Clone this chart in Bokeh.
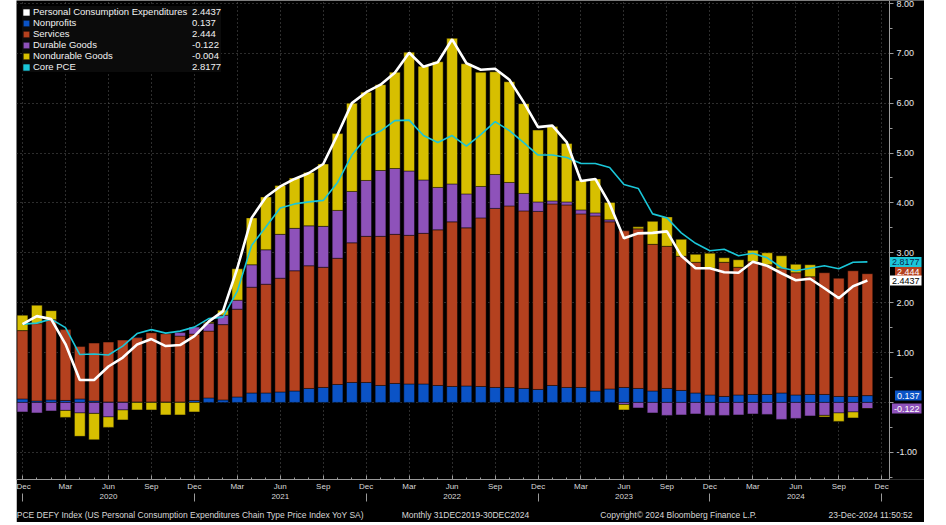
import numpy as np
from bokeh.plotting import figure
from bokeh.models import (ColumnDataSource, FixedTicker, LinearAxis, Legend, LegendItem,
                          Label, NumeralTickFormatter, Range1d, BoxAnnotation)
from bokeh.embed import file_html
from bokeh.resources import INLINE

# ---------------- data (month 0 = Dec 2019 ... 59 = Nov 2024) ----------------
month_index = list(range(60))

nonprofits = [0.07, 0.03, 0.05, 0.04, 0.07, 0.03, 0.01, 0.01, 0.01, 0.01, 0.01, 0.01, 0.04, 0.09, 0.05,
              0.11, 0.19, 0.19, 0.21, 0.23, 0.28, 0.30, 0.36, 0.40, 0.40, 0.34, 0.38, 0.37, 0.37, 0.34,
              0.32, 0.33, 0.32, 0.30, 0.30, 0.28, 0.26, 0.34, 0.30, 0.30, 0.23, 0.27, 0.30, 0.28, 0.23,
              0.28, 0.24, 0.19, 0.15, 0.12, 0.15, 0.16, 0.16, 0.19, 0.15, 0.16, 0.16, 0.12, 0.12, 0.137]

services = [1.37, 1.55, 1.61, 1.42, 1.05, 1.16, 1.20, 1.24, 1.29, 1.39, 1.37, 1.32, 1.33, 1.34, 1.51,
            1.76, 2.12, 2.18, 2.28, 2.41, 2.46, 2.41, 2.53, 2.80, 2.93, 2.99, 2.99, 2.98, 3.02, 3.12,
            3.30, 3.17, 3.38, 3.59, 3.64, 3.56, 3.57, 3.64, 3.66, 3.48, 3.51, 3.35, 3.14, 3.20, 2.94,
            2.85, 2.69, 2.62, 2.54, 2.69, 2.56, 2.66, 2.60, 2.49, 2.45, 2.36, 2.44, 2.37, 2.52, 2.444]

durable = [-0.19, -0.21, -0.17, -0.16, -0.21, -0.22, -0.29, -0.15, 0.01, 0.0, 0.0, 0.07, 0.14, 0.16, 0.19,
           0.18, 0.45, 0.69, 0.88, 0.85, 0.80, 0.82, 0.96, 1.03, 1.12, 1.32, 1.32, 1.29, 1.07, 0.85,
           0.76, 0.68, 0.63, 0.68, 0.47, 0.35, 0.19, 0.06, 0.06, 0.08, 0.06, 0.04, -0.04, -0.11, -0.21,
           -0.26, -0.25, -0.23, -0.26, -0.26, -0.25, -0.23, -0.24, -0.34, -0.32, -0.27, -0.26, -0.21, -0.19, -0.122]

nondurable = [0.31, 0.37, 0.18, -0.14, -0.47, -0.53, -0.21, -0.20, -0.15, -0.15, -0.25, -0.25, -0.19, 0.02, 0.10,
              0.63, 0.94, 1.06, 0.98, 1.01, 1.07, 1.25, 1.54, 1.77, 1.77, 1.72, 1.93, 2.38, 2.28, 2.52,
              2.92, 2.61, 2.29, 2.06, 2.02, 1.80, 1.44, 1.49, 1.17, 0.59, 0.68, 0.35, -0.11, 0.04, 0.46,
              0.59, 0.34, 0.16, 0.30, 0.09, 0.15, 0.23, 0.24, 0.26, 0.17, 0.24, -0.03, -0.17, -0.12, -0.004]

pce = [1.57, 1.73, 1.67, 1.17, 0.45, 0.45, 0.72, 0.90, 1.16, 1.27, 1.13, 1.15, 1.33, 1.62, 1.83,
       2.69, 3.70, 4.12, 4.33, 4.48, 4.60, 4.78, 5.37, 6.00, 6.22, 6.37, 6.61, 7.01, 6.73, 6.82,
       7.28, 6.80, 6.67, 6.69, 6.47, 6.02, 5.52, 5.55, 5.22, 4.44, 4.48, 3.98, 3.29, 3.39, 3.40,
       3.43, 2.94, 2.69, 2.69, 2.61, 2.60, 2.82, 2.74, 2.59, 2.45, 2.48, 2.29, 2.09, 2.33, 2.4437]

core_pce = [1.57, 1.59, 1.67, 1.50, 0.96, 0.97, 0.95, 1.13, 1.38, 1.46, 1.39, 1.43, 1.51, 1.68, 1.71,
            2.23, 3.15, 3.52, 3.90, 3.98, 4.02, 4.05, 4.41, 4.96, 5.31, 5.44, 5.65, 5.66, 5.35, 5.21,
            5.35, 5.14, 5.37, 5.63, 5.45, 5.21, 4.96, 4.96, 4.91, 4.79, 4.79, 4.71, 4.37, 4.29, 3.78,
            3.70, 3.40, 3.19, 3.04, 3.07, 2.94, 2.99, 2.90, 2.70, 2.64, 2.69, 2.74, 2.68, 2.81, 2.8177]

quarter_ticks = list(range(0, 61, 3))
quarter_labels = ["Dec", "Mar", "Jun", "Sep"] * 5 + ["Dec"]
year_ticks = [6, 18, 30, 42, 54]
year_labels = ["2020", "2021", "2022", "2023", "2024"]
year_sep_ticks = [0, 12, 24, 36, 48, 60]
y_ticks = list(range(-1, 9))
y_minor_ticks = [t + 0.5 for t in range(-2, 8)]

series_names = ["Personal Consumption Expenditures", "Nonprofits", "Services",
                "Durable Goods", "Nondurable Goods", "Core PCE"]

footer_texts = ["PCE DEFY Index (US Personal Consumption Expenditures Chain Type Price Index YoY SA)",
                "Monthly 31DEC2019-30DEC2024",
                "Copyright\u00a9 2024 Bloomberg Finance L.P.",
                "23-Dec-2024 11:50:52"]

# ---------------- styling / layout ----------------
C_PCE = "#ffffff"
C_NP = "#0b53c6"
C_SVC = "#b4411f"
C_DUR = "#8e52ba"
C_ND = "#d7bf00"
C_CORE = "#1ac6d8"
FONT = "Liberation Sans"

W, H = 908, 522
LEFT = 16                      # page x of figure's left edge
FRAME_W, FRAME_H = W, 483      # frame spans full width; y axis drawn at a fixed location
PX_PER_MONTH = 14.32
X0 = -0.42
X1 = X0 + FRAME_W / PX_PER_MONTH
Y0, Y1 = -1.545, 8.058
AXIS_PX = 889                  # page x of the value axis line
TAG_RIGHT_PX = 921             # page x of the right edge of the value tags' text
footer_centers_px = [190, 465, 678, 870]


def sx(px):  # page x pixel -> data x
    return X0 + (px - LEFT) * (X1 - X0) / FRAME_W


def sy(py):  # page y pixel -> data y
    return Y1 - py * (Y1 - Y0) / FRAME_H


# ---------------- stacking ----------------
n = len(month_index)
pos = np.zeros(n)
neg = np.zeros(n)
stack = {}
for key, vals in [("np", nonprofits), ("svc", services), ("dur", durable), ("nd", nondurable)]:
    v = np.array(vals, dtype=float)
    bottom = np.where(v >= 0, pos, neg)
    top = bottom + v
    pos = np.where(v >= 0, top, pos)
    neg = np.where(v < 0, top, neg)
    stack[key + "_b"] = bottom
    stack[key + "_t"] = top

src = ColumnDataSource(dict(x=month_index, pce=pce, core=core_pce, **stack))

p = figure(width=W, height=H, output_backend="svg", toolbar_location=None,
           x_range=Range1d(X0, X1), y_range=Range1d(Y0, Y1),
           y_axis_location="right",
           min_border_left=0, min_border_top=0, min_border_right=0,
           min_border_bottom=H - FRAME_H)
p.margin = (0, 0, 0, LEFT)
p.background_fill_color = "black"
p.border_fill_color = "black"
p.outline_line_color = None

# grid
p.xgrid.ticker = FixedTicker(ticks=quarter_ticks)
p.ygrid.ticker = FixedTicker(ticks=y_ticks)
for g in (p.xgrid, p.ygrid):
    g.grid_line_color = "#5a5a5a"
    g.grid_line_dash = "1 3"
    g.grid_line_width = 1
# blank out the grid to the right of the value axis
p.add_layout(BoxAnnotation(left=sx(AXIS_PX), fill_color="black", fill_alpha=1.0,
                           line_color=None, level="underlay"))

bar_kw = dict(x="x", width=0.75, source=src, line_color="black", line_alpha=0.45, line_width=1)
r_np = p.vbar(bottom="np_b", top="np_t", fill_color=C_NP, **bar_kw)
r_svc = p.vbar(bottom="svc_b", top="svc_t", fill_color=C_SVC, **bar_kw)
r_dur = p.vbar(bottom="dur_b", top="dur_t", fill_color=C_DUR, **bar_kw)
r_nd = p.vbar(bottom="nd_b", top="nd_t", fill_color=C_ND, **bar_kw)

r_core = p.line(x="x", y="core", source=src, line_color=C_CORE, line_width=1.6)
r_pce = p.line(x="x", y="pce", source=src, line_color=C_PCE, line_width=2.6)

# hidden square-swatch proxies so the two line series get square legend swatches
proxy_pce = p.vbar(x="x", top="pce", width=0.75, source=src, fill_color=C_PCE, line_color=None, visible=False)
proxy_core = p.vbar(x="x", top="core", width=0.75, source=src, fill_color=C_CORE, line_color=None, visible=False)

# ---------------- axes ----------------
xa = p.xaxis[0]
xa.ticker = FixedTicker(ticks=quarter_ticks, minor_ticks=month_index + [60])
xa.major_label_overrides = {t: l for t, l in zip(quarter_ticks, quarter_labels)}
xa.axis_line_color = "#9a9a9a"
xa.major_tick_line_color = "#9a9a9a"
xa.minor_tick_line_color = "#9a9a9a"
xa.major_tick_in = 4
xa.major_tick_out = 0
xa.minor_tick_in = 2
xa.minor_tick_out = 0
xa.major_label_standoff = 2
xa.major_label_text_font = FONT
xa.major_label_text_font_size = "8px"
xa.major_label_text_color = "#d8d8d8"
xa.bounds = (X0, sx(AXIS_PX))

ya = LinearAxis(ticker=FixedTicker(ticks=year_ticks, minor_ticks=year_sep_ticks))
ya.major_label_overrides = {t: l for t, l in zip(year_ticks, year_labels)}
ya.axis_line_color = None
ya.major_tick_line_color = None
ya.minor_tick_line_color = "#9a9a9a"
ya.minor_tick_in = 0
ya.minor_tick_out = 8
ya.major_label_standoff = -8
ya.major_label_text_font = FONT
ya.major_label_text_font_size = "8px"
ya.major_label_text_color = "#d8d8d8"
p.add_layout(ya, "below")

footer_ticks = [sx(c) for c in footer_centers_px]
fa = LinearAxis(ticker=FixedTicker(ticks=footer_ticks, minor_ticks=[]))
fa.major_label_overrides = {t: l for t, l in zip(footer_ticks, footer_texts)}
fa.axis_line_color = None
fa.major_tick_line_color = None
fa.minor_tick_line_color = None
fa.major_label_standoff = 2
fa.major_label_text_font = FONT
fa.major_label_text_font_size = "8.5px"
fa.major_label_text_color = "#d8d8d8"
p.add_layout(fa, "below")

yax = p.yaxis[0]
yax.fixed_location = sx(AXIS_PX)
yax.ticker = FixedTicker(ticks=y_ticks, minor_ticks=y_minor_ticks)
yax.formatter = NumeralTickFormatter(format="0.00")
yax.major_label_overrides = {0: ""}
yax.axis_line_color = "#9a9a9a"
yax.major_tick_line_color = "#9a9a9a"
yax.minor_tick_line_color = "#9a9a9a"
yax.major_tick_in = 0
yax.major_tick_out = 4
yax.minor_tick_in = 0
yax.minor_tick_out = 3
yax.major_label_standoff = 3
yax.major_label_text_font = FONT
yax.major_label_text_font_size = "9px"
yax.major_label_text_color = "#e8e8e8"

# ---------------- legend ----------------
common_leg = dict(padding=2, spacing=0, label_height=11, glyph_height=8, border_line_color=None,
                  label_text_font=FONT, label_text_font_size="9.5px", label_text_color="#f2f2f2",
                  click_policy="none")
legend = Legend(items=[
    LegendItem(label=series_names[0], renderers=[proxy_pce]),
    LegendItem(label=series_names[1], renderers=[r_np]),
    LegendItem(label=series_names[2], renderers=[r_svc]),
    LegendItem(label=series_names[3], renderers=[r_dur]),
    LegendItem(label=series_names[4], renderers=[r_nd]),
    LegendItem(label=series_names[5], renderers=[proxy_core]),
], location="top_left", margin=6, glyph_width=8, label_standoff=3, label_width=188,
    background_fill_color="#0b0b0b", background_fill_alpha=1.0, **common_leg)
p.add_layout(legend)

# legend value column (a second legend without swatches)
last_vals = [pce[-1], nonprofits[-1], services[-1], durable[-1], nondurable[-1], core_pce[-1]]
val_renderers = [proxy_pce, r_np, r_svc, r_dur, r_nd, proxy_core]
legend_vals = Legend(items=[LegendItem(label=str(v), renderers=[r]) for v, r in zip(last_vals, val_renderers)],
                     location=(176, FRAME_H - 6 - (4 + 11 * len(last_vals))),
                     glyph_width=0, label_standoff=0, background_fill_alpha=0.0, **common_leg)
p.add_layout(legend_vals)

# ---------------- right-hand value tags ----------------
tag_shift = 8.5 * (Y1 - Y0) / FRAME_H
tags = [
    (core_pce[-1], core_pce[-1], C_CORE, "#0c1f4a"),
    (services[-1], services[-1] + tag_shift, C_SVC, "white"),
    (pce[-1], pce[-1], C_PCE, "black"),
    (nonprofits[-1], nonprofits[-1], C_NP, "white"),
    (durable[-1], durable[-1], C_DUR, "white"),
]
for val, ypos, bg, fg in tags:
    p.add_layout(Label(x=sx(TAG_RIGHT_PX), y=ypos, text=str(val), text_align="right",
                       text_baseline="middle", text_font=FONT, text_font_size="9px", text_color=fg,
                       background_fill_color=bg, background_fill_alpha=1.0, padding=2))

open("out.html", "w").write(file_html(p, INLINE))
